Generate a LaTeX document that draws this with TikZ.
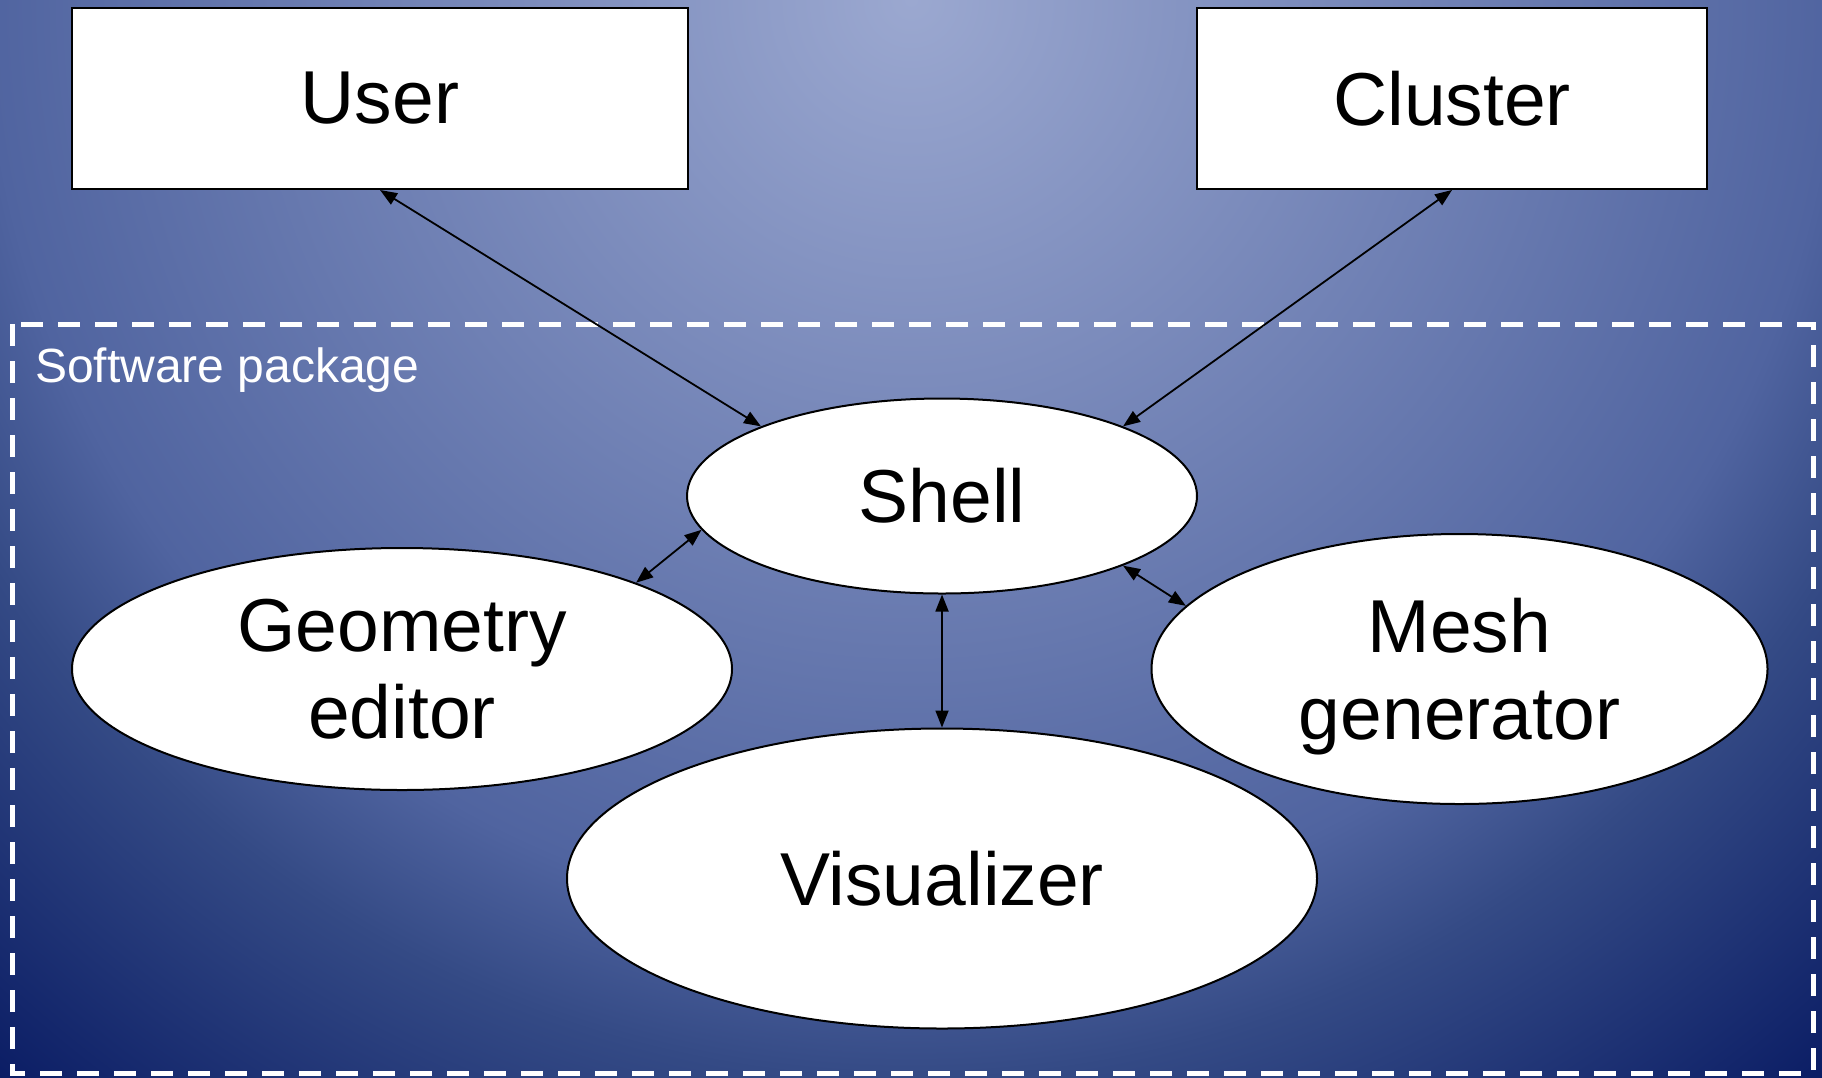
\documentclass[tikz,border=0pt]{standalone}
\usepackage{fontspec}
\setmainfont{Liberation Sans}
\usetikzlibrary{
  positioning,
  shapes.geometric,        % ellipse components
  arrows.meta              % triangle arrowheads
}

\definecolor{bgtop}{RGB}{155,168,208}
\definecolor{bgmid}{RGB}{80,100,160}
\definecolor{bglow}{RGB}{52,74,133}
\definecolor{bgbot}{RGB}{10,28,100}

% path is fitted to the inner 50bp square of the shading
\pgfdeclareradialshading{bgshade}{\pgfpoint{0bp}{0bp}}{%
  color(0bp)=(bgtop); color(16.25bp)=(bgmid);
  color(19bp)=(bglow); color(25bp)=(bgbot); color(50bp)=(bgbot)}

\begin{document}
\begin{tikzpicture}[
    x=1pt, y=-1pt,
    >={Triangle[length=17pt, width=13pt]},
    bigfont/.style={font=\fontsize{75}{87}\selectfont},
    block/.style={rectangle, draw=black, line width=2pt, fill=white,
                  inner sep=0pt, bigfont},
    component/.style={ellipse, draw=black, line width=2pt, fill=white,
                      inner sep=0pt, align=center, bigfont},
    pkgbox/.style={draw=white, line width=5pt, dash pattern=on 22pt off 15pt},
    pkgtitle/.style={text=white, inner sep=0pt, anchor=base west,
                     font=\fontsize{48}{57}\selectfont},
    link/.style={<->, line width=1.8pt}
]
  \useasboundingbox (0,0) rectangle (1822,1077);

  % background
  \begin{scope}
    \clip (0,0) rectangle (1822,1077);
    \shade[shading=bgshade] (911,0) circle (1420);
  \end{scope}

  % outside actors
  \node[block, minimum width=616pt, minimum height=181pt] (user)    at (380,98.5)  {User};
  \node[block, minimum width=510pt, minimum height=181pt] (cluster) at (1452,98.5) {Cluster};

  % software package
  \draw[pkgbox] (12,324) rectangle (1813,1073);
  \node[pkgtitle] (pkglabel) at (35,382) {Software package};

  \node[component, minimum width=510pt, minimum height=195pt] (shell)   at (942,496)  {Shell};
  \node[component, minimum width=660pt, minimum height=242pt] (geoedit) at (402,669)  {Geometry\\editor};
  \node[component, minimum width=616pt, minimum height=270pt, text depth=0pt]
        (meshgen) at (1459.5,669) {Mesh\\generator};
  \node[component, minimum width=750pt, minimum height=300pt] (visual)  at (942,878.5) {Visualizer};

  \draw[link] (user.south)        -- (shell.north west);
  \draw[link] (cluster.south)     -- (shell.north east);
  \draw[link] (geoedit.north east) -- (shell.188);
  \draw[link] (shell.south east)  -- (meshgen.167);
  \draw[link] (shell.south)       -- (visual.north);
\end{tikzpicture}
\end{document}
